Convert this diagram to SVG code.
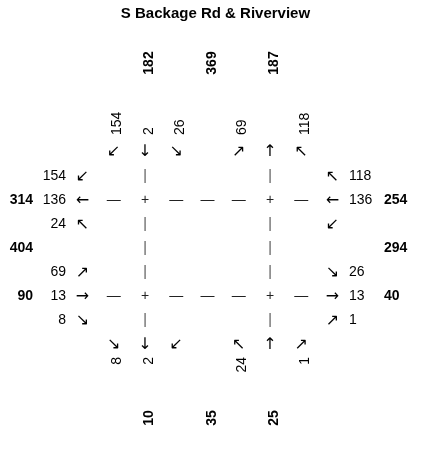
<svg xmlns="http://www.w3.org/2000/svg" width="431" height="449" viewBox="0 0 431 449">
<style>
text{font-family:"Liberation Sans","DejaVu Sans",sans-serif;font-size:14px;fill:#000;dominant-baseline:central}
.b{font-weight:bold}
.t{font-weight:bold;font-size:15px;text-anchor:middle}
.m{text-anchor:middle}
.e{text-anchor:end}
.s{text-anchor:start}
.a{font-family:"DejaVu Sans",sans-serif;font-size:16px;text-anchor:middle}
.v{fill:#555;text-anchor:middle}
.h{fill:#222;text-anchor:middle}
</style>
<rect width="431" height="449" fill="#fff"/>
<g style="opacity:0.999">
<text id="title" class="t" x="215.5" y="12">S Backage Rd &amp; Riverview</text>

<g id="north">
<text class="b m" transform="translate(148,63) rotate(-90)">182</text>
<text class="b m" transform="translate(210.5,63) rotate(-90)">369</text>
<text class="b m" transform="translate(273,63) rotate(-90)">187</text>
<text class="s" transform="translate(116,135) rotate(-90)">154</text>
<text class="s" transform="translate(148,135) rotate(-90)">2</text>
<text class="s" transform="translate(179,135) rotate(-90)">26</text>
<text class="s" transform="translate(241,135) rotate(-90)">69</text>
<text class="s" transform="translate(304,135) rotate(-90)">118</text>
<text class="a" x="113.75" y="150">↙</text>
<text class="a" x="145" y="150">↓</text>
<text class="a" x="176.25" y="150">↘</text>
<text class="a" x="238.75" y="150">↗</text>
<text class="a" x="270" y="150">↑</text>
<text class="a" x="301.25" y="150">↖</text>
</g>

<g id="south">
<text class="a" x="113.75" y="343">↘</text>
<text class="a" x="145" y="343">↓</text>
<text class="a" x="176.25" y="343">↙</text>
<text class="a" x="238.75" y="343">↖</text>
<text class="a" x="270" y="343">↑</text>
<text class="a" x="301.25" y="343">↗</text>
<text class="e" transform="translate(116,357) rotate(-90)">8</text>
<text class="e" transform="translate(148,357) rotate(-90)">2</text>
<text class="e" transform="translate(241,357) rotate(-90)">24</text>
<text class="e" transform="translate(304,357) rotate(-90)">1</text>
<text class="b m" transform="translate(148,418) rotate(-90)">10</text>
<text class="b m" transform="translate(210.5,418) rotate(-90)">35</text>
<text class="b m" transform="translate(273,418) rotate(-90)">25</text>
</g>

<g id="west">
<text class="e" x="66" y="175">154</text>
<text class="b e" x="33" y="199">314</text>
<text class="e" x="66" y="199">136</text>
<text class="e" x="66" y="223">24</text>
<text class="b e" x="33" y="247">404</text>
<text class="e" x="66" y="271">69</text>
<text class="b e" x="33" y="295">90</text>
<text class="e" x="66" y="295">13</text>
<text class="e" x="66" y="319">8</text>
<text class="a" x="82.5" y="175">↙</text>
<text class="a" x="82.5" y="199">←</text>
<text class="a" x="82.5" y="223">↖</text>
<text class="a" x="82.5" y="271">↗</text>
<text class="a" x="82.5" y="295">→</text>
<text class="a" x="82.5" y="319">↘</text>
</g>

<g id="east">
<text class="a" x="332.5" y="175">↖</text>
<text class="a" x="332.5" y="199">←</text>
<text class="a" x="332.5" y="223">↙</text>
<text class="a" x="332.5" y="271">↘</text>
<text class="a" x="332.5" y="295">→</text>
<text class="a" x="332.5" y="319">↗</text>
<text class="s" x="349" y="175">118</text>
<text class="s" x="349" y="199">136</text>
<text class="b s" x="384" y="199">254</text>
<text class="b s" x="384" y="247">294</text>
<text class="s" x="349" y="271">26</text>
<text class="s" x="349" y="295">13</text>
<text class="b s" x="384" y="295">40</text>
<text class="s" x="349" y="319">1</text>
</g>

<g id="connectors">
<text class="v" x="145" y="175">|</text>
<text class="v" x="270" y="175">|</text>
<text class="h" x="113.75" y="199">—</text>
<text class="h" x="145" y="199">+</text>
<text class="h" x="176.25" y="199">—</text>
<text class="h" x="207.5" y="199">—</text>
<text class="h" x="238.75" y="199">—</text>
<text class="h" x="270" y="199">+</text>
<text class="h" x="301.25" y="199">—</text>
<text class="v" x="145" y="223">|</text>
<text class="v" x="270" y="223">|</text>
<text class="v" x="145" y="247">|</text>
<text class="v" x="270" y="247">|</text>
<text class="v" x="145" y="271">|</text>
<text class="v" x="270" y="271">|</text>
<text class="h" x="113.75" y="295">—</text>
<text class="h" x="145" y="295">+</text>
<text class="h" x="176.25" y="295">—</text>
<text class="h" x="207.5" y="295">—</text>
<text class="h" x="238.75" y="295">—</text>
<text class="h" x="270" y="295">+</text>
<text class="h" x="301.25" y="295">—</text>
<text class="v" x="145" y="319">|</text>
<text class="v" x="270" y="319">|</text>
</g>
</g>
</svg>
